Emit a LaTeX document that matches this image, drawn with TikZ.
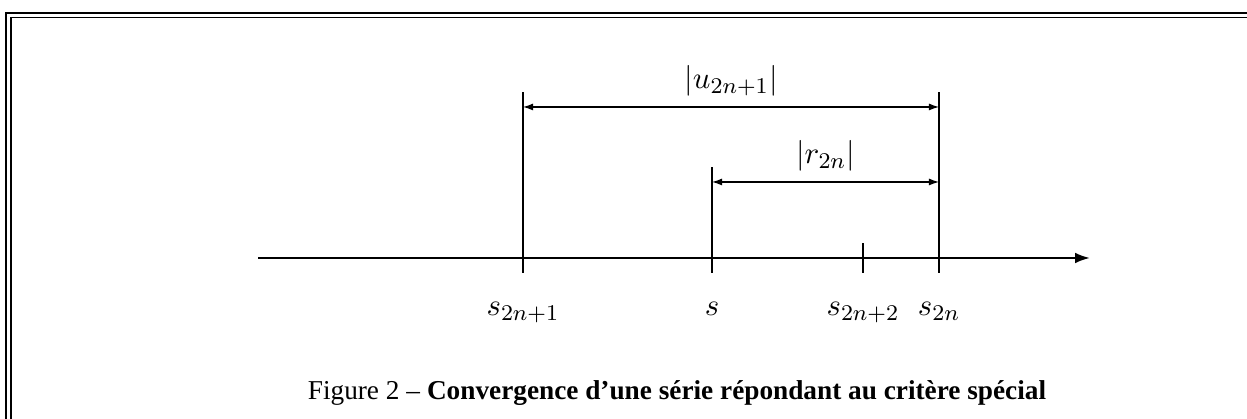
\documentclass[tikz,border=0pt]{standalone}
\usepackage{fontspec}
\setmainfont{Liberation Serif}
\usepackage{amsmath}
\usetikzlibrary{positioning,calc,arrows.meta}
\tikzset{
  axe/.style  ={-{Latex[length=5.3pt,width=3.8pt]}, line width=0.8pt},
  ligne/.style={line width=0.4pt},
  cote/.style ={{Latex[length=3.6pt,width=2.5pt]}-{Latex[length=3.6pt,width=2.5pt]}, line width=0.4pt},
  lbl/.style  ={font=\fontsize{11}{13}\selectfont, inner sep=1pt},
  cad/.style  ={line width=0.7pt},
  leg/.style  ={font=\fontsize{9.7}{12}\selectfont, inner sep=0pt, anchor=base},
}

\begin{document}
\begin{tikzpicture}
\clip (0,0) rectangle (15.5875,5.2375);
% cadre double
\draw[cad]   (0.081,-1) rectangle (17,5.069);
\draw[ligne] (0.1375,-1) rectangle (17,5.019);
% axe
\coordinate (o)   at (3.225,2.0125);
\coordinate (fin) at (13.625,2.0125);
\draw[axe] (o) -- (fin);
% graduations et lignes de rappel
\coordinate (a0) at (6.5375,1.825);  \coordinate (a1) at (6.5375,4.0875);
\coordinate (b0) at (8.9,1.825);     \coordinate (b1) at (8.9,3.15);
\coordinate (c0) at (10.7875,1.825); \coordinate (c1) at (10.7875,2.2);
\coordinate (d0) at (11.7375,1.825); \coordinate (d1) at (11.7375,4.0875);
\draw[ligne] (a0) -- (a1);
\draw[ligne] (b0) -- (b1);
\draw[ligne] (c0) -- (c1);
\draw[ligne] (d0) -- (d1);
\node[lbl, below=9.3pt of a0] (sa) {$s_{2n+1}$};
\node[lbl, below=9.3pt of b0] (sb) {$s$};
\node[lbl, below=9.3pt of c0] (sc) {$s_{2n+2}$};
\node[lbl, below=9.3pt of d0] (sd) {$s_{2n}$};
% cotes
\coordinate (u1) at (6.5375,3.9);  \coordinate (u2) at (11.7375,3.9);
\coordinate (r1) at (8.9,2.9625);  \coordinate (r2) at (11.7375,2.9625);
\draw[cote] (u1) -- node[lbl, above=2.5pt] (lu) {$|u_{2n+1}|$} (u2);
\draw[cote] (r1) -- node[lbl, above=2.5pt] (lr) {$|r_{2n}|$} (r2);
% legende
\node[leg] (cap) at (8.4625,0.2375) {Figure 2 -- \textbf{Convergence d’une série répondant au critère spécial}};
\end{tikzpicture}
\end{document}
